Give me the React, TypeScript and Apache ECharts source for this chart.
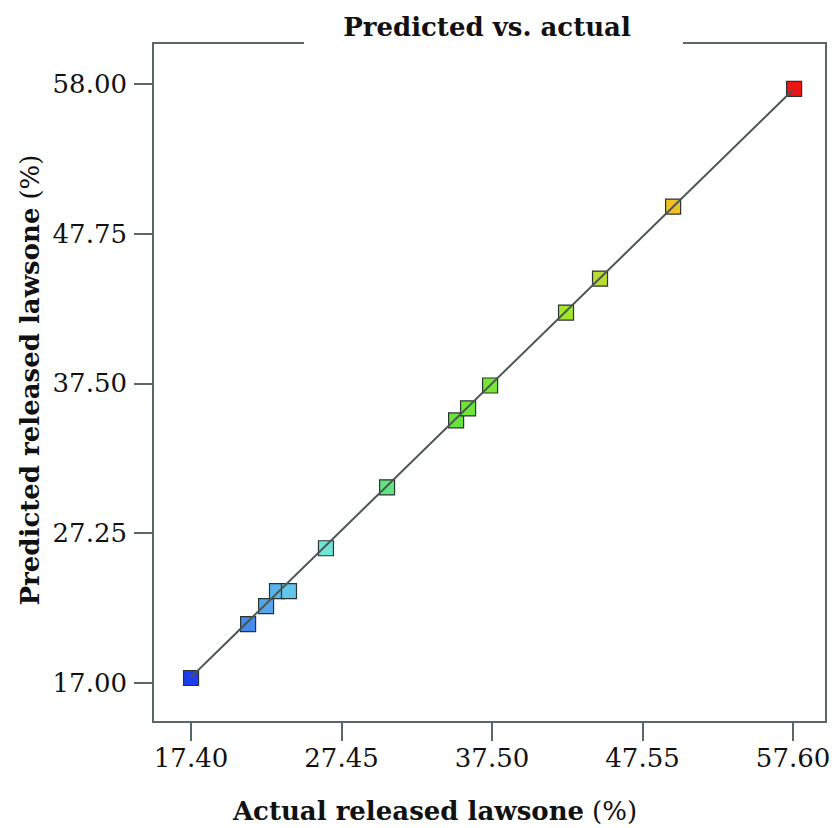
import React, { useEffect, useRef } from "react";
import * as echarts from "echarts";

const titleText = "Predicted vs. actual";
const xName = "Actual released lawsone";
const yName = "Predicted released lawsone";
const unit = "(%)";

const actual = [17.4, 21.21, 22.41, 23.14, 23.94, 26.41, 30.49, 35.1, 35.9, 37.37, 42.44, 44.71, 49.59, 57.67];
const predicted = [17.34, 21.03, 22.26, 23.29, 23.29, 26.22, 30.39, 34.97, 35.79, 37.36, 42.35, 44.68, 49.6, 57.66];

const xTicks = [17.4, 27.45, 37.5, 47.55, 57.6];
const yTicks = [17.0, 27.25, 37.5, 47.75, 58.0];

const xRange = [14.86, 59.8];
const yRange = [14.33, 60.8];

const colorScale = ["#1e3cf0", "#72e6ea", "#5ee040", "#98ec30", "#f0c020", "#f01414"];

export default function App() {
  const ref = useRef<HTMLDivElement>(null);
  useEffect(() => {
    document.body.style.margin = "0";
    const chart = echarts.init(ref.current!, null, { renderer: "svg" });
    const pts = actual.map((a, i) => [a, predicted[i]]);
    const lo = Math.min(...actual);
    const hi = Math.max(...actual);
    const axisColor = "#5b6767";
    const font = "DejaVu Serif";
    chart.setOption({
      animation: false,
      backgroundColor: "#ffffff",
      grid: {
        left: 153,
        top: 43,
        width: 673,
        height: 679,
        show: true,
        borderColor: axisColor,
        borderWidth: 2,
        backgroundColor: "transparent",
      },
      xAxis: {
        type: "value",
        min: xRange[0],
        max: xRange[1],
        splitLine: { show: false },
        axisLine: { show: true, onZero: false, lineStyle: { color: axisColor, width: 2 } },
        axisTick: { show: true, length: 19, customValues: xTicks, lineStyle: { color: axisColor, width: 2 } },
        axisLabel: {
          customValues: xTicks,
          formatter: (v: number) => v.toFixed(2),
          fontFamily: font,
          fontSize: 26,
          color: "#111",
          margin: 23,
        },
      },
      yAxis: {
        type: "value",
        min: yRange[0],
        max: yRange[1],
        splitLine: { show: false },
        axisLine: { show: true, onZero: false, lineStyle: { color: axisColor, width: 2 } },
        axisTick: { show: true, length: 19, customValues: yTicks, lineStyle: { color: axisColor, width: 2 } },
        axisLabel: {
          customValues: yTicks,
          formatter: (v: number) => v.toFixed(2),
          fontFamily: font,
          fontSize: 26,
          color: "#111",
          margin: 26,
        },
      },
      visualMap: {
        show: false,
        type: "continuous",
        dimension: 0,
        seriesIndex: 0,
        min: lo,
        max: hi,
        inRange: { color: colorScale },
      },
      series: [
        {
          type: "scatter",
          data: pts,
          symbol: "rect",
          symbolSize: 15,
          itemStyle: { borderColor: "#2a3333", borderWidth: 1.2, opacity: 1 },
          z: 2,
        },
        {
          type: "line",
          data: [
            [lo, lo],
            [hi, hi],
          ],
          symbol: "none",
          lineStyle: { color: "#4a5656", width: 2 },
          z: 3,
        },
      ],
      graphic: [
        { type: "rect", z: 100, shape: { x: 304, y: 30, width: 379, height: 24 }, style: { fill: "#ffffff" } },
        {
          type: "text",
          z: 101,
          x: 487,
          y: 27,
          style: {
            text: titleText,
            fontFamily: font,
            fontWeight: "bold",
            fontSize: 26,
            fill: "#111",
            align: "center",
            verticalAlign: "middle",
          },
        },
        {
          type: "text",
          z: 101,
          x: 435,
          y: 811,
          style: {
            text: `{b|${xName}}{s| }{r|${unit}}`,
            align: "center",
            verticalAlign: "middle",
            rich: {
              b: { fontFamily: font, fontWeight: "bold", fontSize: 26, fill: "#111" },
              s: { fontFamily: font, fontSize: 26, width: 8 },
              r: { fontFamily: font, fontWeight: "normal", fontSize: 26, fill: "#111" },
            },
          },
        },
        {
          type: "text",
          z: 101,
          x: 30,
          y: 380,
          rotation: Math.PI / 2,
          style: {
            text: `{b|${yName}}{s| }{r|${unit}}`,
            align: "center",
            verticalAlign: "middle",
            rich: {
              b: { fontFamily: font, fontWeight: "bold", fontSize: 26, fill: "#111" },
              s: { fontFamily: font, fontSize: 26, width: 8 },
              r: { fontFamily: font, fontWeight: "normal", fontSize: 26, fill: "#111" },
            },
          },
        },
      ],
    });
    return () => chart.dispose();
  }, []);
  return <div ref={ref} style={{ width: 839, height: 828 }} />;
}
